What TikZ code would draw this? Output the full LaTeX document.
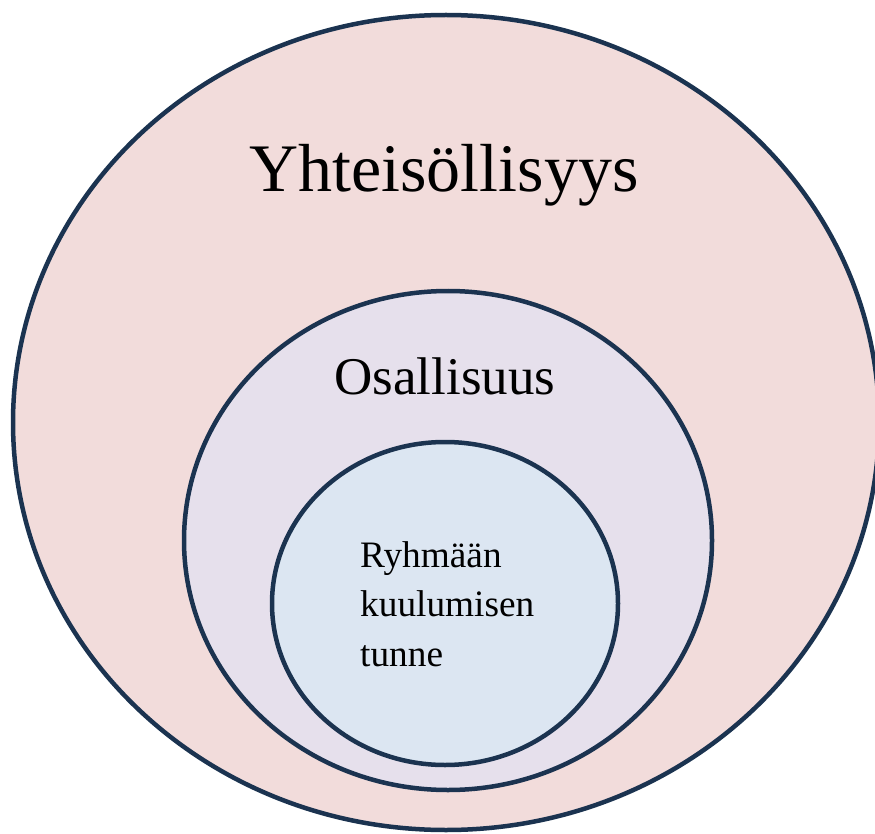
\documentclass[tikz,border=0pt]{standalone}
\usepackage{fontspec}
\setmainfont{Liberation Serif}
\usetikzlibrary{shapes.geometric}
\definecolor{ringline}{HTML}{1B3350}
\definecolor{outerfill}{HTML}{F2DCDB}
\definecolor{midfill}{HTML}{E6E0EC}
\definecolor{innerfill}{HTML}{DCE6F2}
\tikzset{
  ring/.style={ellipse, draw=ringline, line width=4.5pt, inner sep=0pt, outer sep=0pt},
  label/.style={text=black, inner sep=0pt, anchor=base}
}
\begin{document}
\begin{tikzpicture}[x=1pt,y=-1pt]
\useasboundingbox (0,0) rectangle (875,834);
\node[ring, fill=outerfill, minimum width=866pt, minimum height=815pt] (outer) at (446,422.5) {};
\node[ring, fill=midfill, minimum width=528pt, minimum height=499pt] (middle) at (448,540.5) {};
\node[ring, fill=innerfill, minimum width=346pt, minimum height=323pt] (inner) at (445,603.5) {};
\node[label, font=\fontsize{68}{80}\selectfont] (t1) at (444,192) {Yhteisöllisyys};
\node[label, font=\fontsize{53}{62}\selectfont] (t2) at (445,394) {Osallisuus};
\node[label, anchor=base west, align=left, font=\fontsize{37.3}{49.5}\selectfont] (t3) at (360,666) {Ryhmään\\kuulumisen\\tunne};
\end{tikzpicture}
\end{document}
